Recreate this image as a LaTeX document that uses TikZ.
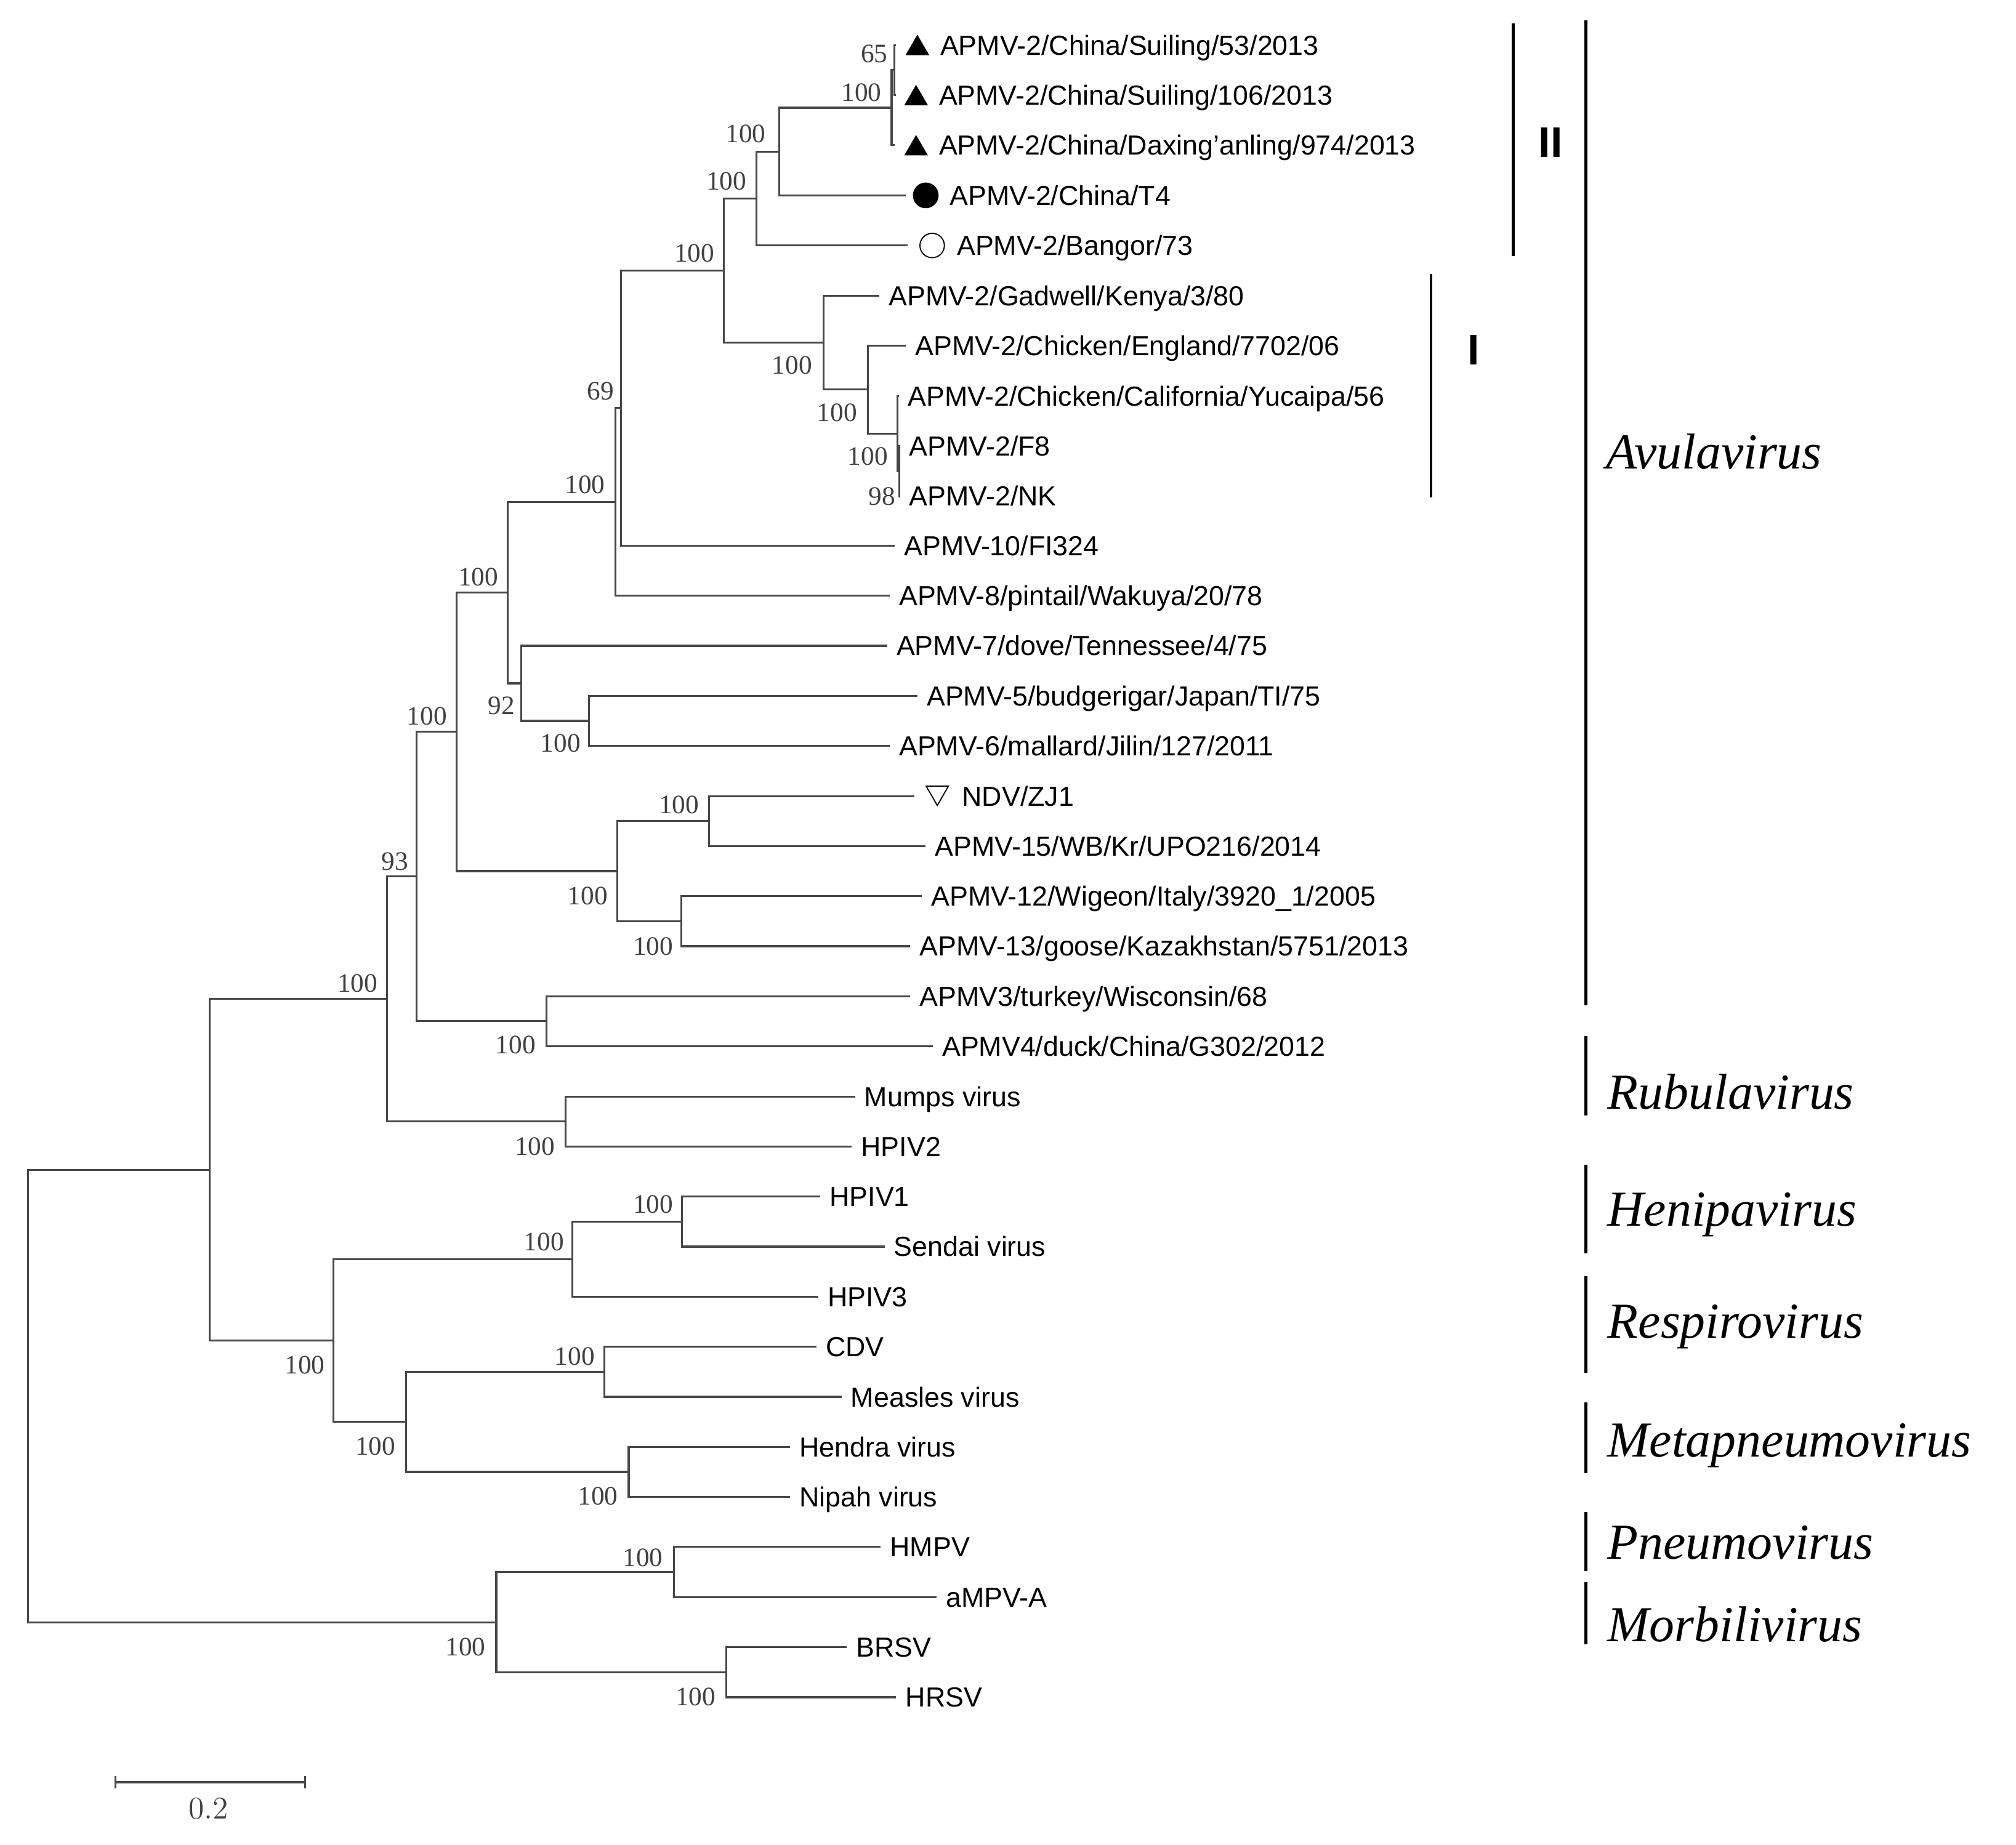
\documentclass[tikz,border=0pt]{standalone}
\usepackage{fontspec}
\usetikzlibrary{shapes.geometric,arrows.meta}
\newfontfamily\taxonfont{Liberation Sans}
\newfontfamily\bootfont{Liberation Serif}
\newfontfamily\genusfont{Liberation Serif}

\begin{document}
\begin{tikzpicture}[x=0.02cm,y=-0.02cm,
branch/.style={draw=black!72,line width=0.85pt},
cladebar/.style={draw=black,line width=1.2pt},
taxonlabel/.style={anchor=west,inner sep=0pt,text height=8.7pt,text depth=0pt,font=\taxonfont\fontsize{12.2pt}{14pt}\selectfont},
tiplabel/.style={taxonlabel,xshift=0.14cm},
bootlabel/.style={inner sep=0pt,text height=7.8pt,text depth=0pt,text=black!75,font=\bootfont\fontsize{11.8pt}{13pt}\selectfont},
genuslabel/.style={anchor=west,inner sep=0pt,text height=14.8pt,text depth=0pt,font=\genusfont\itshape\fontsize{22.3pt}{26pt}\selectfont},
groupmark/.style={inner sep=0pt,text height=13.6pt,text depth=0pt,font=\taxonfont\bfseries\fontsize{19pt}{22pt}\selectfont},
uptri/.style={regular polygon,regular polygon sides=3,fill=black,inner sep=0pt,minimum size=0.425cm},
downtri/.style={regular polygon,regular polygon sides=3,shape border rotate=180,draw=black,line width=0.5pt,fill=white,inner sep=0pt,minimum size=0.4cm},
fulldot/.style={circle,fill=black,inner sep=0pt,minimum size=0.4cm},
opendot/.style={circle,draw=black,line width=0.5pt,inner sep=0pt,minimum size=0.38cm}]
\useasboundingbox (0,0) rectangle (1568,1435);

\coordinate (l0) at (697,35);
\coordinate (l1) at (697,74);
\coordinate (l2) at (696,113);
\coordinate (l3) at (704.5,152);
\coordinate (l4) at (706,191);
\coordinate (l5) at (684,230);
\coordinate (l6) at (704.5,269);
\coordinate (l7) at (699,308);
\coordinate (l8) at (700,347);
\coordinate (l9) at (700,386);
\coordinate (l10) at (696,424.5);
\coordinate (l11) at (692,463.5);
\coordinate (l12) at (690,502.4);
\coordinate (l13) at (713.5,541.4);
\coordinate (l14) at (692,580.3);
\coordinate (l15) at (711,619.3);
\coordinate (l16) at (720,658.2);
\coordinate (l17) at (717,697.2);
\coordinate (l18) at (708,736.1);
\coordinate (l19) at (708,775.1);
\coordinate (l20) at (725.5,814);
\coordinate (l21) at (665,853);
\coordinate (l22) at (662.5,891.9);
\coordinate (l23) at (638,930.9);
\coordinate (l24) at (688,969.8);
\coordinate (l25) at (636.5,1008.8);
\coordinate (l26) at (635,1047.7);
\coordinate (l27) at (654.5,1086.7);
\coordinate (l28) at (614.5,1125.6);
\coordinate (l29) at (614.5,1164.6);
\coordinate (l30) at (685,1203.5);
\coordinate (l31) at (728.5,1242.5);
\coordinate (l32) at (658.5,1281.4);
\coordinate (l33) at (697,1320.4);

\coordinate (n65) at (695.5,54.5);
\coordinate (ntrio) at (693.5,83.8);
\coordinate (nT4) at (606,117.9);
\coordinate (nII) at (588.5,154.4);
\coordinate (nFN) at (699.5,366.5);
\coordinate (nCal) at (698,337.3);
\coordinate (nEng) at (675,303.1);
\coordinate (nI) at (640.5,266.6);
\coordinate (nAPMV2) at (563,210.5);
\coordinate (nA) at (483,317.5);
\coordinate (nB) at (478.5,390.5);
\coordinate (n56) at (458,560.8);
\coordinate (nD) at (405.5,531.6);
\coordinate (nC) at (395,461);
\coordinate (nF1) at (551.5,638.7);
\coordinate (nF2) at (530,716.6);
\coordinate (nF) at (480,677.7);
\coordinate (nE) at (355,569.3);
\coordinate (nH) at (425,794.5);
\coordinate (nG) at (324,681.9);
\coordinate (nJ) at (440,872.4);
\coordinate (nR) at (301,777.2);
\coordinate (nN1) at (530.5,950.3);
\coordinate (nN) at (445,979.5);
\coordinate (nM1) at (470,1067.2);
\coordinate (nM2) at (489,1145.1);
\coordinate (nM) at (316,1106.1);
\coordinate (nL) at (259.5,1042.8);
\coordinate (nK) at (163,910);
\coordinate (nP1) at (524,1223);
\coordinate (nP2) at (565,1300.9);
\coordinate (nP) at (386,1262);
\coordinate (root) at (22,1086);

\draw[branch] (n65) |- (l0) (n65) |- (l1);
\draw[branch] (ntrio) |- (n65) (ntrio) |- (l2);
\draw[branch] (nT4) |- (ntrio) (nT4) |- (l3);
\draw[branch] (nII) |- (nT4) (nII) |- (l4);
\draw[branch] (nFN) |- (l8) (nFN) |- (l9);
\draw[branch] (nCal) |- (l7) (nCal) |- (nFN);
\draw[branch] (nEng) |- (l6) (nEng) |- (nCal);
\draw[branch] (nI) |- (l5) (nI) |- (nEng);
\draw[branch] (nAPMV2) |- (nII) (nAPMV2) |- (nI);
\draw[branch] (nA) |- (nAPMV2) (nA) |- (l10);
\draw[branch] (nB) |- (nA) (nB) |- (l11);
\draw[branch] (n56) |- (l13) (n56) |- (l14);
\draw[branch] (nD) |- (l12) (nD) |- (n56);
\draw[branch] (nC) |- (nB) (nC) |- (nD);
\draw[branch] (nF1) |- (l15) (nF1) |- (l16);
\draw[branch] (nF2) |- (l17) (nF2) |- (l18);
\draw[branch] (nF) |- (nF1) (nF) |- (nF2);
\draw[branch] (nE) |- (nC) (nE) |- (nF);
\draw[branch] (nH) |- (l19) (nH) |- (l20);
\draw[branch] (nG) |- (nE) (nG) |- (nH);
\draw[branch] (nJ) |- (l21) (nJ) |- (l22);
\draw[branch] (nR) |- (nG) (nR) |- (nJ);
\draw[branch] (nN1) |- (l23) (nN1) |- (l24);
\draw[branch] (nN) |- (nN1) (nN) |- (l25);
\draw[branch] (nM1) |- (l26) (nM1) |- (l27);
\draw[branch] (nM2) |- (l28) (nM2) |- (l29);
\draw[branch] (nM) |- (nM1) (nM) |- (nM2);
\draw[branch] (nL) |- (nN) (nL) |- (nM);
\draw[branch] (nK) |- (nR) (nK) |- (nL);
\draw[branch] (nP1) |- (l30) (nP1) |- (l31);
\draw[branch] (nP2) |- (l32) (nP2) |- (l33);
\draw[branch] (nP) |- (nP1) (nP) |- (nP2);
\draw[branch] (root) |- (nK) (root) |- (nP);

\node[uptri] (m0) at (713.5,37.6) {};
\node[uptri] (m1) at (712.5,76.6) {};
\node[uptri] (m2) at (712.5,115.6) {};
\node[fulldot] (m3) at (720,152) {};
\node[opendot] (m4) at (725,191) {};
\node[downtri] (m15) at (729,616.6) {};

\node[taxonlabel] (t0) at (731,35) {APMV-2/China/Suiling/53/2013};
\node[taxonlabel] (t1) at (730,74) {APMV-2/China/Suiling/106/2013};
\node[taxonlabel] (t2) at (730,113) {APMV-2/China/Daxing’anling/974/2013};
\node[taxonlabel] (t3) at (738.5,152) {APMV-2/China/T4};
\node[taxonlabel] (t4) at (744,191) {APMV-2/Bangor/73};
\node[tiplabel] (t5) at (l5) {APMV-2/Gadwell/Kenya/3/80};
\node[tiplabel] (t6) at (l6) {APMV-2/Chicken/England/7702/06};
\node[tiplabel] (t7) at (l7) {APMV-2/Chicken/California/Yucaipa/56};
\node[tiplabel] (t8) at (l8) {APMV-2/F8};
\node[tiplabel] (t9) at (l9) {APMV-2/NK};
\node[tiplabel] (t10) at (l10) {APMV-10/FI324};
\node[tiplabel] (t11) at (l11) {APMV-8/pintail/Wakuya/20/78};
\node[tiplabel] (t12) at (l12) {APMV-7/dove/Tennessee/4/75};
\node[tiplabel] (t13) at (l13) {APMV-5/budgerigar/Japan/TI/75};
\node[tiplabel] (t14) at (l14) {APMV-6/mallard/Jilin/127/2011};
\node[taxonlabel] (t15) at (748,619.3) {NDV/ZJ1};
\node[tiplabel] (t16) at (l16) {APMV-15/WB/Kr/UPO216/2014};
\node[tiplabel] (t17) at (l17) {APMV-12/Wigeon/Italy/3920\_1/2005};
\node[tiplabel] (t18) at (l18) {APMV-13/goose/Kazakhstan/5751/2013};
\node[tiplabel] (t19) at (l19) {APMV3/turkey/Wisconsin/68};
\node[tiplabel] (t20) at (l20) {APMV4/duck/China/G302/2012};
\node[tiplabel] (t21) at (l21) {Mumps virus};
\node[tiplabel] (t22) at (l22) {HPIV2};
\node[tiplabel] (t23) at (l23) {HPIV1};
\node[tiplabel] (t24) at (l24) {Sendai virus};
\node[tiplabel] (t25) at (l25) {HPIV3};
\node[tiplabel] (t26) at (l26) {CDV};
\node[tiplabel] (t27) at (l27) {Measles virus};
\node[tiplabel] (t28) at (l28) {Hendra virus};
\node[tiplabel] (t29) at (l29) {Nipah virus};
\node[tiplabel] (t30) at (l30) {HMPV};
\node[tiplabel] (t31) at (l31) {aMPV-A};
\node[tiplabel] (t32) at (l32) {BRSV};
\node[tiplabel] (t33) at (l33) {HRSV};

\node[bootlabel] (b65) at (680,42) {65};
\node[bootlabel] (btrio) at (670,72) {100};
\node[bootlabel] (bT4) at (580,104) {100};
\node[bootlabel] (bII) at (565,141) {100};
\node[bootlabel] (bAPMV2) at (540,197) {100};
\node[bootlabel] (bI) at (616,284) {100};
\node[bootlabel] (bEng) at (651,321) {100};
\node[bootlabel] (bCal) at (675,355) {100};
\node[bootlabel] (bFN) at (686,386) {98};
\node[bootlabel] (bA) at (467,304) {69};
\node[bootlabel] (bB) at (455,377) {100};
\node[bootlabel] (bC) at (372,449) {100};
\node[bootlabel] (bD) at (390,549) {92};
\node[bootlabel] (b56) at (436,578) {100};
\node[bootlabel] (bE) at (332,557) {100};
\node[bootlabel] (bF1) at (528,626) {100};
\node[bootlabel] (bF) at (457,697) {100};
\node[bootlabel] (bF2) at (508,736) {100};
\node[bootlabel] (bG) at (307,670) {93};
\node[bootlabel] (bH) at (401,813) {100};
\node[bootlabel] (bR) at (278,765) {100};
\node[bootlabel] (bJ) at (416,892) {100};
\node[bootlabel] (bN1) at (508,937) {100};
\node[bootlabel] (bN) at (423,966) {100};
\node[bootlabel] (bL) at (237,1062) {100};
\node[bootlabel] (bM1) at (447,1055) {100};
\node[bootlabel] (bM) at (292,1125) {100};
\node[bootlabel] (bM2) at (465,1164) {100};
\node[bootlabel] (bP1) at (500,1212) {100};
\node[bootlabel] (bP) at (362,1281) {100};
\node[bootlabel] (bP2) at (541,1320) {100};

\coordinate (IIa) at (1177,18);
\coordinate (IIb) at (1177,199);
\coordinate (Ia) at (1113,213);
\coordinate (Ib) at (1113,387);
\coordinate (avua) at (1233.5,16);
\coordinate (avub) at (1233.5,782);
\coordinate (ruba) at (1233.5,806);
\coordinate (rubb) at (1233.5,868);
\coordinate (hena) at (1233.5,906);
\coordinate (henb) at (1233.5,975);
\coordinate (resa) at (1233.5,993);
\coordinate (resb) at (1233.5,1068);
\coordinate (meta) at (1233.5,1091);
\coordinate (metb) at (1233.5,1146);
\coordinate (pnea) at (1233.5,1176);
\coordinate (pneb) at (1233.5,1222);
\coordinate (mora) at (1233.5,1231);
\coordinate (morb) at (1233.5,1279);
\draw[cladebar] (IIa) -- (IIb);
\draw[cladebar] (Ia) -- (Ib);
\draw[cladebar] (avua) -- (avub);
\draw[cladebar] (ruba) -- (rubb);
\draw[cladebar] (hena) -- (henb);
\draw[cladebar] (resa) -- (resb);
\draw[cladebar] (meta) -- (metb);
\draw[cladebar] (pnea) -- (pneb);
\draw[cladebar] (mora) -- (morb);

\node[groupmark] (gII) at (1206,110.5) {II};
\node[groupmark] (gI) at (1146,272) {I};
\node[genuslabel] (avula) at (1249,351.5) {Avulavirus};
\node[genuslabel] (rubula) at (1250,850) {Rubulavirus};
\node[genuslabel] (henipa) at (1250,941) {Henipavirus};
\node[genuslabel] (respiro) at (1250,1027.7) {Respirovirus};
\node[genuslabel] (metapneumo) at (1250,1120.6) {Metapneumovirus};
\node[genuslabel] (pneumo) at (1250,1200) {Pneumovirus};
\node[genuslabel] (morbili) at (1250,1264) {Morbilivirus};

\coordinate (s0) at (89,1386.5);
\coordinate (s1) at (238,1386.5);
\draw[branch,{Bar[width=0.2cm]}-{Bar[width=0.2cm]}] (s0) -- (s1);
\node[text=black!75,font=\fontsize{14pt}{16pt}\selectfont] (scale) at (162,1407) {0.2};
\end{tikzpicture}
\end{document}
